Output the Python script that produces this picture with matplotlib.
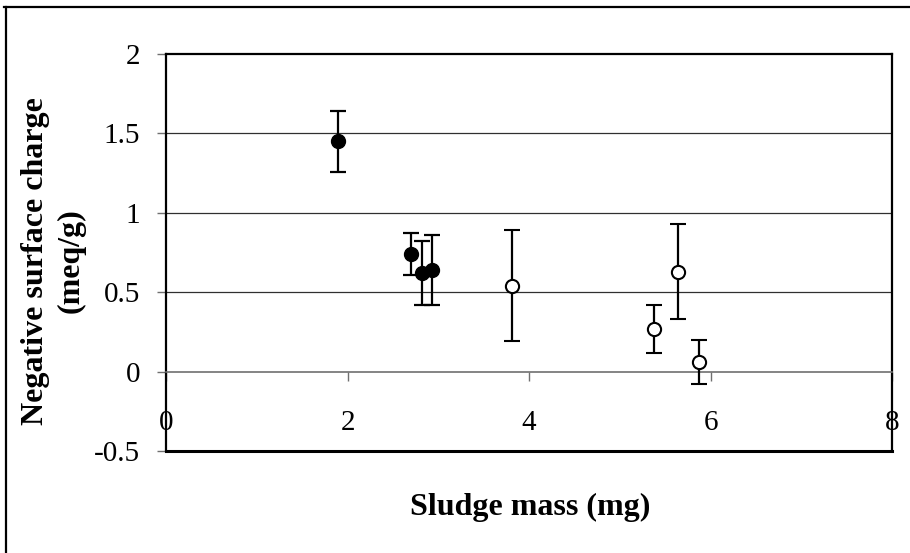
import matplotlib.pyplot as plt
from matplotlib.lines import Line2D

# sludge mass (mg) vs negative surface charge (meq/g)
mass_filled = [1.90, 2.70, 2.82, 2.93]
charge_filled = [1.45, 0.74, 0.62, 0.64]
err_filled = [0.19, 0.13, 0.20, 0.22]

mass_open = [3.81, 5.38, 5.645, 5.87]
charge_open = [0.54, 0.27, 0.63, 0.06]
err_open = [0.35, 0.15, 0.30, 0.14]

xticks = [0, 2, 4, 6, 8]
yticks = [-0.5, 0, 0.5, 1, 1.5, 2]

plt.rcParams['font.family'] = ['Liberation Serif', 'DejaVu Serif']

fig = plt.figure(figsize=(9.1, 5.53), dpi=100)
ax = fig.add_axes([166/910, 1 - 451/553, (892 - 166)/910, (451 - 54)/553])

# grid lines
for yv in [0.5, 1, 1.5]:
    ax.axhline(yv, color='#303030', lw=0.9, zorder=1)

ax.errorbar(mass_filled, charge_filled, yerr=err_filled, fmt='o', color='black',
            ms=10, mfc='black', mec='black', ecolor='black', elinewidth=1.6,
            capsize=5.5, capthick=1.6, zorder=3)
ax.errorbar(mass_open, charge_open, yerr=err_open, fmt='o', color='black',
            ms=9.5, mfc='white', mec='black', mew=1.5, ecolor='black', elinewidth=1.6,
            capsize=5.5, capthick=1.6, zorder=3)

ax.set_xlim(0, 8)
ax.set_ylim(-0.5, 2)
ax.set_xticks(xticks)
ax.set_yticks(yticks)
ax.set_yticklabels(['-0.5', '0', '0.5', '1', '1.5', '2'])

ax.spines['bottom'].set_position(('data', 0))
ax.spines['bottom'].set_color('#707070')
ax.spines['bottom'].set_linewidth(1.2)
for s in ['left', 'top', 'right']:
    ax.spines[s].set_color('black')
    ax.spines[s].set_linewidth(1.6)
ax.axhline(-0.5, color='black', lw=2.2, clip_on=False, zorder=4)

ax.tick_params(axis='x', direction='out', length=6.5, width=1, color='#707070',
               labelsize=21, pad=21)
ax.tick_params(axis='y', direction='out', length=6.5, width=1, color='#707070',
               labelsize=21, pad=12)

fig.text(53/910, 1 - 261/553, 'Negative surface charge\n(meq/g)', rotation=90,
         ha='center', va='center', fontsize=23, fontweight='bold', linespacing=1.3)
fig.text(530/910, 1 - 507/553, 'Sludge mass (mg)', ha='center', va='center',
         fontsize=23, fontweight='bold')

# outer chart frame (top and left edges visible)
fig.add_artist(Line2D([4/910, 1], [1 - 7/553, 1 - 7/553], color='black', lw=1.6,
                      transform=fig.transFigure))
fig.add_artist(Line2D([5.5/910, 5.5/910], [0, 1 - 7/553], color='black', lw=1.6,
                      transform=fig.transFigure))

fig.savefig('out.png', dpi=100)
